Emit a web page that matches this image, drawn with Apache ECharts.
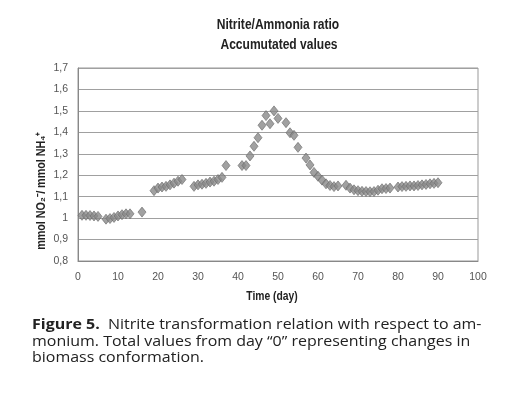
<!DOCTYPE html>
<html>
<head>
<meta charset="utf-8">
<script src="https://cdn.jsdelivr.net/npm/echarts@6/dist/echarts.min.js"></script>
<style>
  html, body { margin: 0; padding: 0; background: #fff; }
  #chart { width: 522px; height: 394px; }
</style>
</head>
<body>
<div id="chart"></div>
<script>
// day of measurement and accumulated nitrite/ammonia ratio
const days = [
  1, 2, 3, 4, 5,
  7, 8, 9, 10, 11, 12, 13,
  16,
  19, 20, 21, 22, 23, 24, 25, 26,
  29, 30, 31, 32, 33, 34, 35, 36, 37,
  41, 42, 43, 44, 45, 46, 47, 48, 49, 50,
  52, 53, 54, 55, 57, 58, 59, 60, 61, 62, 63, 64, 65,
  67, 68, 69, 70, 71, 72, 73, 74, 75, 76, 77, 78,
  80, 81, 82, 83, 84, 85, 86, 87, 88, 89, 90
];
const ratios = [
  1.013, 1.013, 1.012, 1.01, 1.008,
  0.995, 0.998, 1.003, 1.01, 1.016, 1.02, 1.02,
  1.028,
  1.128, 1.14, 1.145, 1.148, 1.155, 1.163, 1.172, 1.18,
  1.148, 1.155, 1.158, 1.162, 1.168, 1.172, 1.18, 1.19, 1.245,
  1.245, 1.245, 1.29, 1.335, 1.375, 1.433, 1.478, 1.44, 1.5, 1.465,
  1.445, 1.398, 1.386, 1.33, 1.28, 1.248, 1.213, 1.195, 1.177, 1.16, 1.152, 1.147, 1.15,
  1.153, 1.14, 1.132, 1.128, 1.125, 1.124, 1.123, 1.124, 1.13, 1.137, 1.138, 1.14,
  1.145, 1.147, 1.148, 1.15, 1.15, 1.152, 1.155, 1.157, 1.16, 1.162, 1.165
];

const chartTitle = "Nitrite/Ammonia ratio";
const chartSubtitle = "Accumutated values";
const xName = "Time (day)";
const yName = "mmol NO\u2082\u207B/ mmol NH\u2084\u207A";
const captionLines = [
  "Nitrite transformation relation with respect to am-",
  "monium. Total values from day \u201C0\u201D representing changes in",
  "biomass conformation."
];

const sans = "'Liberation Sans', Arial, sans-serif";
const capFont = "'Open Sans', Lato, sans-serif";

const chart = echarts.init(document.getElementById("chart"), null, { renderer: "canvas" });

// narrow-looking bold text (Arial Narrow in the original)
const narrowText = (text, x, y, size, rot) => ({
  type: "text",
  x, y,
  rotation: rot || 0,
  scaleX: 0.86,
  style: {
    text, fontFamily: sans, fontSize: size, fontWeight: "bold", fill: "#222",
    align: "center", verticalAlign: "middle"
  }
});

const capLine = (text, y) => ({
  type: "text",
  x: 32, y,
  scaleX: 1.065,
  style: {
    text,
    rich: { b: { fontFamily: capFont, fontSize: 15, fontWeight: "bold", fill: "#222" } },
    fontFamily: capFont, fontSize: 15, fill: "#222", verticalAlign: "middle"
  }
});

chart.setOption({
  backgroundColor: "#fff",
  animation: false,
  grid: { left: 78, right: 44, top: 68, bottom: 133, show: true, borderColor: "#999", borderWidth: 1 },
  xAxis: {
    type: "value",
    min: 0, max: 100, interval: 10,
    axisLine: { show: true, lineStyle: { color: "#888" } },
    axisTick: { show: false },
    axisLabel: { color: "#555", fontSize: 10.5, fontFamily: sans, margin: 11 },
    splitLine: { show: false }
  },
  yAxis: {
    type: "value",
    min: 0.8, max: 1.7, interval: 0.1,
    axisLine: { show: true, lineStyle: { color: "#888" } },
    axisTick: { show: false },
    axisLabel: {
      color: "#555", fontSize: 10.5, fontFamily: sans, margin: 10,
      formatter: (v) => (Math.round(v * 10) / 10).toString().replace(".", ",")
    },
    splitLine: { lineStyle: { color: "#a0a0a0", width: 1 } }
  },
  graphic: [
    narrowText(chartTitle, 278, 25, 14),
    narrowText(chartSubtitle, 279, 45, 14),
    narrowText(xName, 272, 297, 12),
    narrowText(yName, 42, 191, 12.5, Math.PI / 2),
    capLine("{b|Figure 5.}  " + captionLines[0], 325),
    capLine(captionLines[1], 342),
    capLine(captionLines[2], 358)
  ],
  series: [
    {
      type: "scatter",
      data: days.map((d, i) => [d, ratios[i]]),
      symbol: "diamond",
      symbolSize: [8, 10],
      itemStyle: { color: "#8a8a8a", borderColor: "#6a6a6a", borderWidth: 0.8 }
    }
  ]
});
</script>
</body>
</html>
